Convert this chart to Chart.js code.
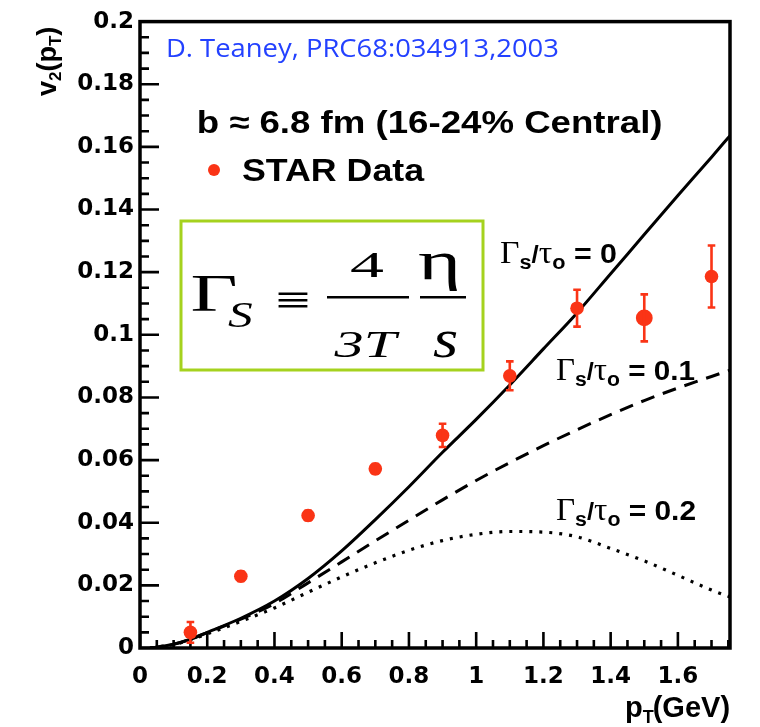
<!DOCTYPE html>
<html>
<head>
<meta charset="utf-8">
<script src="https://cdn.jsdelivr.net/npm/chart.js@4.4.0/dist/chart.umd.min.js"></script>
<style>
  html, body { margin: 0; padding: 0; background: #ffffff; overflow: hidden; }
  #wrap { width: 760px; height: 727px; position: relative; }
  canvas { display: block; }
</style>
</head>
<body>
<div id="wrap"><canvas id="c" width="760" height="727"></canvas></div>
<script>
// ---- data ----
const pT = [0.15, 0.3, 0.5, 0.7, 0.9, 1.1, 1.3, 1.5, 1.7];
const v2Star = [0.0050, 0.0229, 0.0423, 0.0572, 0.0679, 0.0869, 0.1085, 0.1054, 0.1186];
const v2StarErr = [0.0033, 0.0015, 0.0015, 0.0015, 0.0037, 0.0046, 0.0059, 0.0075, 0.0099];

const pTCurve = [0.03, 0.1, 0.15, 0.2, 0.3, 0.4, 0.5, 0.6, 0.7, 0.8, 0.9, 1.0, 1.1, 1.2, 1.3, 1.4, 1.5, 1.6, 1.7, 1.755];
const v2Gamma0  = [0, 0.0012, 0.0028, 0.0050, 0.0095, 0.0150, 0.0222, 0.0310, 0.0410, 0.0515, 0.0625, 0.0730, 0.0840, 0.0955, 0.1070, 0.1195, 0.1320, 0.1445, 0.1567, 0.1636];
const v2Gamma01 = [0, 0.0012, 0.0028, 0.0049, 0.0092, 0.0142, 0.0208, 0.0275, 0.0342, 0.0408, 0.0473, 0.0535, 0.0592, 0.0646, 0.0697, 0.0745, 0.0790, 0.0830, 0.0867, 0.0887];
const v2Gamma02 = [0, 0.0011, 0.0026, 0.0045, 0.0085, 0.0128, 0.0178, 0.0227, 0.0272, 0.0312, 0.0343, 0.0363, 0.0372, 0.0370, 0.0355, 0.0318, 0.0278, 0.0232, 0.0185, 0.0163];

// tick-mark values (every 4th is a major tick)
const yTickValues = [0, 0.005, 0.01, 0.015, 0.02, 0.025, 0.03, 0.035, 0.04, 0.045, 0.05, 0.055, 0.06, 0.065, 0.07, 0.075,
  0.08, 0.085, 0.09, 0.095, 0.1, 0.105, 0.11, 0.115, 0.12, 0.125, 0.13, 0.135, 0.14, 0.145, 0.15, 0.155, 0.16, 0.165,
  0.17, 0.175, 0.18, 0.185, 0.19, 0.195, 0.2];
const xTickValues = [0, 0.05, 0.1, 0.15, 0.2, 0.25, 0.3, 0.35, 0.4, 0.45, 0.5, 0.55, 0.6, 0.65, 0.7, 0.75, 0.8, 0.85,
  0.9, 0.95, 1.0, 1.05, 1.1, 1.15, 1.2, 1.25, 1.3, 1.35, 1.4, 1.45, 1.5, 1.55, 1.6, 1.65, 1.7, 1.75];

const RED = 'rgb(250,52,22)';
const SANS = '"Liberation Sans", Arial, sans-serif';
const SERIF = '"Liberation Serif", "DejaVu Serif", serif';

function pts(xs, ys) { return xs.map((x, i) => ({ x: x, y: ys[i] })); }

function fitInk(ctx, str, left, right, base, font, color) {
  ctx.save();
  ctx.font = font; ctx.fillStyle = color || '#000';
  ctx.textAlign = 'left'; ctx.textBaseline = 'alphabetic';
  const m = ctx.measureText(str);
  const inkL = -m.actualBoundingBoxLeft, inkW = m.actualBoundingBoxRight + m.actualBoundingBoxLeft;
  const sx = inkW > 0 ? (right - left) / inkW : 1;
  ctx.translate(left, base);
  ctx.scale(sx, 1);
  ctx.fillText(str, -inkL, 0);
  ctx.restore();
}

function gammaLabel(ctx, left, right, base, valueStr) {
  const parts = [
    { t: 'Γ', f: '31px ' + SERIF, dy: 0 },
    { t: 's', f: 'bold 20px ' + SANS, dy: 6 },
    { t: '/', f: 'bold 24px ' + SANS, dy: 0 },
    { t: 'τ', f: '31px ' + SERIF, dy: 0 },
    { t: 'o', f: 'bold 20px ' + SANS, dy: 6 },
    { t: ' = ' + valueStr, f: 'bold 28px ' + SANS, dy: 0 }
  ];
  ctx.save();
  let w = 0;
  parts.forEach(p => { ctx.font = p.f; p.w = ctx.measureText(p.t).width; w += p.w; });
  const sx = (right - left) / w;
  ctx.translate(left, base);
  ctx.scale(sx, 1);
  ctx.fillStyle = '#000'; ctx.textBaseline = 'alphabetic'; ctx.textAlign = 'left';
  let x = 0;
  parts.forEach(p => { ctx.font = p.f; ctx.fillText(p.t, x, p.dy); x += p.w; });
  ctx.restore();
}

const overlay = {
  id: 'overlay',
  afterDraw(chart) {
    const ctx = chart.ctx, a = chart.chartArea, xs = chart.scales.x, ys = chart.scales.y;

    // error bars
    ctx.save();
    ctx.setLineDash([]);
    ctx.strokeStyle = RED; ctx.lineWidth = 2.6;
    for (let i = 0; i < pT.length; i++) {
      const px = xs.getPixelForValue(pT[i]);
      const yt = ys.getPixelForValue(v2Star[i] + v2StarErr[i]);
      const yb = ys.getPixelForValue(v2Star[i] - v2StarErr[i]);
      ctx.beginPath();
      ctx.moveTo(px, yt); ctx.lineTo(px, yb);
      ctx.moveTo(px - 3.8, yt); ctx.lineTo(px + 3.8, yt);
      ctx.moveTo(px - 3.8, yb); ctx.lineTo(px + 3.8, yb);
      ctx.stroke();
    }
    ctx.restore();

    // frame
    ctx.save();
    ctx.setLineDash([]);
    ctx.strokeStyle = '#000000'; ctx.lineWidth = 3.5;
    ctx.strokeRect(a.left, a.top, a.right - a.left, a.bottom - a.top);
    ctx.restore();

    fitInk(ctx, 'D. Teaney, PRC68:034913,2003', 168, 558, 57, '26px "Open Sans", sans-serif', 'rgb(35,65,255)');
    fitInk(ctx, 'b ≈ 6.8 fm (16-24% Central)', 199, 661, 133, 'bold 31px ' + SANS, '#000');
    ctx.save(); ctx.fillStyle = RED; ctx.beginPath(); ctx.arc(214, 170, 6, 0, Math.PI * 2); ctx.fill(); ctx.restore();
    fitInk(ctx, 'STAR Data', 242, 425, 181, 'bold 31px ' + SANS, '#000');

    gammaLabel(ctx, 500, 617, 263, '0');
    gammaLabel(ctx, 556, 695, 380, '0.1');
    gammaLabel(ctx, 556, 696, 520, '0.2');

    ctx.save();
    ctx.strokeStyle = 'rgb(165,210,30)'; ctx.lineWidth = 3;
    ctx.strokeRect(181, 221, 302, 149);
    ctx.restore();
    fitInk(ctx, 'Γ', 192, 235, 311, '53px ' + SERIF, '#000');
    fitInk(ctx, 'S', 228, 252, 327, 'italic 35px ' + SERIF, '#000');
    fitInk(ctx, '≡', 277, 308, 312, 'bold 36px ' + SERIF, '#000');
    fitInk(ctx, '4', 350, 383, 277, '35px ' + SERIF, '#000');
    fitInk(ctx, '3T', 333, 400, 357, 'italic 37px ' + SERIF, '#000');
    fitInk(ctx, 'η', 418, 457, 279, '55px ' + SERIF, '#000');
    fitInk(ctx, 's', 433, 457, 357, 'italic 54px ' + SERIF, '#000');
    ctx.save();
    ctx.fillStyle = '#000';
    ctx.fillRect(327, 296, 82, 2.5);
    ctx.fillRect(420, 296, 46, 2.5);
    ctx.restore();

    ctx.save();
    ctx.fillStyle = '#000'; ctx.textBaseline = 'alphabetic';
    let xx = 625;
    ctx.font = 'bold 29px ' + SANS; ctx.fillText('p', xx, 717); xx += ctx.measureText('p').width;
    ctx.font = 'bold 18px ' + SANS; ctx.fillText('T', xx, 723); xx += ctx.measureText('T').width - 1;
    ctx.font = 'bold 29px ' + SANS; ctx.fillText('(GeV)', xx, 717);
    ctx.restore();

    ctx.save();
    ctx.translate(56, 96); ctx.rotate(-Math.PI / 2);
    ctx.fillStyle = '#000'; ctx.textBaseline = 'alphabetic';
    let yy = 0;
    ctx.font = 'bold 27px ' + SANS; ctx.fillText('v', yy, 0); yy += ctx.measureText('v').width;
    ctx.font = 'bold 17px ' + SANS; ctx.fillText('2', yy, 5); yy += ctx.measureText('2').width;
    ctx.font = 'bold 27px ' + SANS; ctx.fillText('(p', yy, 0); yy += ctx.measureText('(p').width;
    ctx.font = 'bold 17px ' + SANS; ctx.fillText('T', yy, 5); yy += ctx.measureText('T').width;
    ctx.font = 'bold 27px ' + SANS; ctx.fillText(')', yy, 0);
    ctx.restore();
  }
};

const fmt = v => String(parseFloat(Number(v).toFixed(3)));

new Chart(document.getElementById('c'), {
  type: 'scatter',
  data: {
    datasets: [
      {
        label: 'STAR Data', data: pts(pT, v2Star), order: 0,
        backgroundColor: RED, borderColor: RED, borderWidth: 0,
        pointRadius: c => (c.dataIndex === 7 ? 8.4 : 6.8), pointHoverRadius: 7
      },
      {
        type: 'line', label: 'Γs/τo = 0', data: pts(pTCurve, v2Gamma0), order: 1,
        borderColor: '#000', borderWidth: 3, pointRadius: 0, fill: false,
        cubicInterpolationMode: 'monotone'
      },
      {
        type: 'line', label: 'Γs/τo = 0.1', data: pts(pTCurve, v2Gamma01), order: 1,
        borderColor: '#000', borderWidth: 3, borderDash: [14, 9], pointRadius: 0, fill: false,
        cubicInterpolationMode: 'monotone'
      },
      {
        type: 'line', label: 'Γs/τo = 0.2', data: pts(pTCurve, v2Gamma02), order: 1,
        borderColor: '#000', borderWidth: 3.2, borderDash: [3, 7], pointRadius: 0, fill: false,
        cubicInterpolationMode: 'monotone'
      },
      {
        // inward y tick marks (half of each marker is clipped by the chart area)
        label: 'y ticks', data: yTickValues.map(v => ({ x: 0, y: v })), order: -1, clip: 0,
        pointStyle: 'line', pointBorderColor: '#000', pointBackgroundColor: '#000', pointBorderWidth: 2.6,
        pointRadius: c => (c.dataIndex % 4 === 0 ? 19 : 9), pointHoverRadius: 0, pointHitRadius: 0
      },
      {
        // inward x tick marks
        label: 'x ticks', data: xTickValues.map(v => ({ x: v, y: 0 })), order: -1, clip: 0,
        pointStyle: 'line', pointRotation: 90, pointBorderColor: '#000', pointBackgroundColor: '#000', pointBorderWidth: 2.6,
        pointRadius: c => (c.dataIndex % 4 === 0 ? 16 : 8), pointHoverRadius: 0, pointHitRadius: 0
      }
    ]
  },
  options: {
    responsive: false, animation: false, devicePixelRatio: 1,
    events: [],
    layout: { padding: { left: 0, top: 16, right: 30, bottom: 0 } },
    plugins: { legend: { display: false }, tooltip: { enabled: false } },
    scales: {
      x: {
        type: 'linear', min: 0, max: 1.755,
        grid: { display: false, drawTicks: false }, border: { display: false },
        ticks: { stepSize: 0.2, includeBounds: false, padding: 15, color: '#000', maxRotation: 0,
                 font: { family: '"DejaVu Sans"', weight: 'bold', size: 23 }, callback: fmt },
        afterFit: s => { s.height = 79; }
      },
      y: {
        type: 'linear', min: 0, max: 0.2,
        grid: { display: false, drawTicks: false }, border: { display: false },
        ticks: { stepSize: 0.02, includeBounds: false, padding: 6, color: '#000',
                 font: { family: '"DejaVu Sans"', weight: 'bold', size: 23 }, callback: fmt },
        afterFit: s => { s.width = 140; }
      }
    }
  },
  plugins: [overlay]
});
</script>
</body>
</html>
